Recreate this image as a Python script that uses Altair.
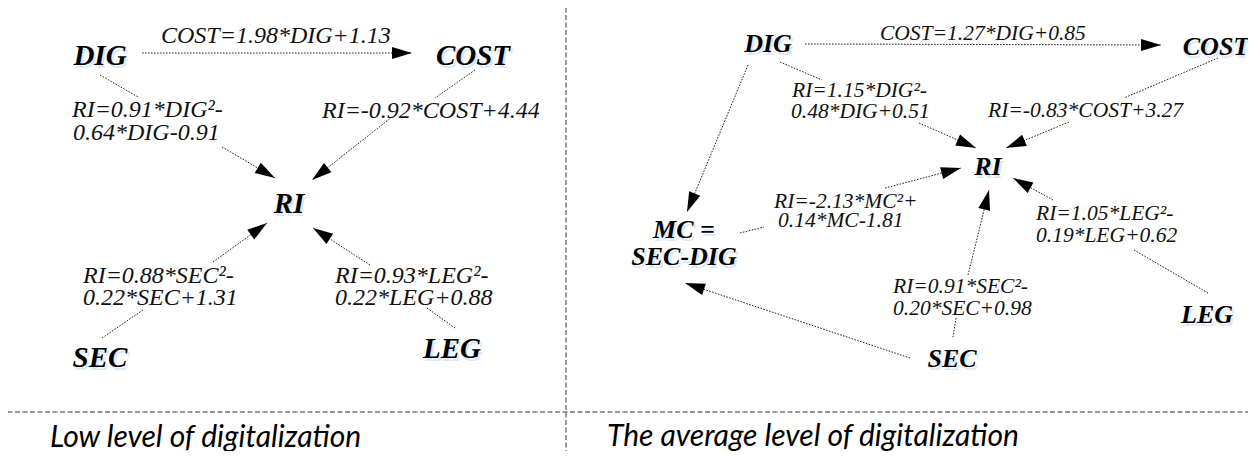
import math
import altair as alt
import pandas as pd

# ---------------- data (positions in diagram pixel units) ----------------
node_text = ["DIG", "COST", "RI", "SEC", "LEG",
             "DIG", "COST", "RI", "MC =", "SEC-DIG", "SEC", "LEG"]
node_x = [100, 473, 289, 100, 452, 768, 1216, 988, 684, 684, 952, 1207]
node_y = [65, 65, 213, 367, 358, 52, 55, 175, 238, 265, 367, 323]
node_size = [29] * 5 + [26] * 7

eq_text = ["COST=1.98*DIG+1.13",
           "RI=0.91*DIG²-", "0.64*DIG-0.91",
           "RI=-0.92*COST+4.44",
           "RI=0.88*SEC²-", "0.22*SEC+1.31",
           "RI=0.93*LEG²-", "0.22*LEG+0.88",
           "COST=1.27*DIG+0.85",
           "RI=1.15*DIG²-", "0.48*DIG+0.51",
           "RI=-0.83*COST+3.27",
           "RI=-2.13*MC²+", "0.14*MC-1.81",
           "RI=0.91*SEC²-", "0.20*SEC+0.98",
           "RI=1.05*LEG²-", "0.19*LEG+0.62"]
eq_x = [161, 72, 73, 322, 83, 83, 335, 335,
        880, 792, 791, 988, 774, 778, 893, 893, 1036, 1036]
eq_y = [43, 117, 140, 118, 283, 305, 283, 305,
        40, 97, 118, 117, 208, 227, 293, 315, 220, 242]
eq_size = [24] * 8 + [21.5] * 10

arrow_x1 = [142, 222, 392, 213, 370, 805, 919, 1069, 885, 968, 1053, 748, 910]
arrow_y1 = [53, 147, 117, 262, 265, 44, 123, 122, 188, 275, 200, 65, 358]
arrow_x2 = [412, 275, 312, 267, 313, 1161, 976, 1006, 961, 989, 1013, 687, 685]
arrow_y2 = [53, 178, 180, 223, 228, 45, 148, 148, 168, 190, 178, 212, 283]

link_x1 = [100, 475, 143, 427, 780, 1218, 740, 956, 1134]
link_y1 = [75, 70, 310, 308, 62, 58, 233, 318, 250]
link_x2 = [138, 435, 102, 455, 822, 1124, 764, 953, 1208]
link_y2 = [97, 98, 338, 328, 80, 98, 227, 337, 293]

caption_text = ["Low level of digitalization", "The average level of digitalization"]
caption_x = [50, 607]
caption_y = [447, 446]

div_x1 = [0, 566]
div_y1 = [412, 0]
div_x2 = [1256, 566]
div_y2 = [412, 459]

# ---------------- tables ----------------
ang = [(math.degrees(math.atan2(x2 - x1, -(y2 - y1))) + 360) % 360
       for x1, y1, x2, y2 in zip(arrow_x1, arrow_y1, arrow_x2, arrow_y2)]
arrows = pd.DataFrame({"x": arrow_x1, "y": arrow_y1, "x2": arrow_x2,
                       "y2": arrow_y2, "ang": ang})
links = pd.DataFrame({"x": link_x1, "y": link_y1, "x2": link_x2, "y2": link_y2})
caps = pd.DataFrame({"t": caption_text, "x": caption_x, "y": caption_y})
divs = pd.DataFrame({"x": div_x1, "y": div_y1, "x2": div_x2, "y2": div_y2})
nodes = pd.DataFrame({"t": node_text, "x": node_x, "y": node_y, "s": node_size})
eqs = pd.DataFrame({"t": eq_text, "x": eq_x, "y": eq_y, "s": eq_size})

SERIF = "Liberation Serif"
XS = alt.Scale(domain=[8, 1248], nice=False, zero=False)
YS = alt.Scale(domain=[8, 451], nice=False, zero=False, reverse=True)
X = alt.X("x:Q", scale=XS, axis=None)
Y = alt.Y("y:Q", scale=YS, axis=None)

glow = alt.Chart(nodes).mark_text(
    font=SERIF, fontStyle="italic", fontWeight="bold",
    align="center", baseline="alphabetic", color="#c6d9f1", dx=2, dy=3,
    opacity=0.6).encode(x=X, y=Y, text="t:N", size=alt.Size("s:Q", scale=None))

node_marks = alt.Chart(nodes).mark_text(
    font=SERIF, fontStyle="italic", fontWeight="bold",
    align="center", baseline="alphabetic", color="black").encode(
    x=X, y=Y, text="t:N", size=alt.Size("s:Q", scale=None))

eq_marks = alt.Chart(eqs).mark_text(
    font=SERIF, fontStyle="italic", align="left",
    baseline="alphabetic", color="#111111").encode(
    x=X, y=Y, text="t:N", size=alt.Size("s:Q", scale=None))

cap_marks = alt.Chart(caps).mark_text(
    font="Lato", fontStyle="italic", fontSize=30, align="left",
    baseline="alphabetic", color="black").encode(x=X, y=Y, text="t:N")

dividers = alt.Chart(divs).mark_rule(color="#333333", strokeWidth=1,
                                     strokeDash=[5, 2.5]).encode(
    x=X, y=Y, x2="x2:Q", y2="y2:Q")

dot_style = dict(color="#222222", strokeWidth=1, strokeDash=[1.6, 1.4])
arrow_lines = alt.Chart(arrows).mark_rule(**dot_style).encode(
    x=X, y=Y, x2="x2:Q", y2="y2:Q")
link_lines = alt.Chart(links).mark_rule(**dot_style).encode(
    x=X, y=Y, x2="x2:Q", y2="y2:Q")

heads = alt.Chart(arrows).mark_point(
    shape="M0,0L0.6,2L-0.6,2Z", filled=True, size=400, color="black",
    opacity=1, strokeWidth=0).encode(
    x=alt.X("x2:Q", scale=XS, axis=None),
    y=alt.Y("y2:Q", scale=YS, axis=None),
    angle=alt.Angle("ang:Q", scale=None))

# text layers first, then lines and arrowheads
chart = alt.layer(
    glow, node_marks, eq_marks, cap_marks, dividers, arrow_lines, link_lines, heads
).properties(
    width=1240, height=443, padding=0, autosize=alt.AutoSizeParams(type="none"),
    background="white"
).configure_view(stroke=None)

chart.save("out.html", embed_options={"renderer": "svg", "actions": False})
